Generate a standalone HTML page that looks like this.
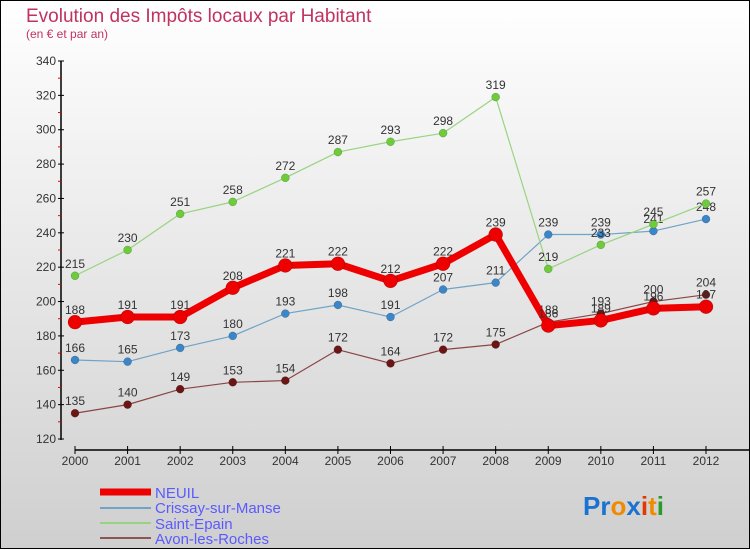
<!DOCTYPE html>
<html><head><meta charset="utf-8"><style>
body{margin:0}
#c{width:750px;height:550px;position:relative;overflow:hidden;font-family:"Liberation Sans",sans-serif}
</style></head><body>
<div id="c">
<svg id="s" width="750" height="550" xmlns="http://www.w3.org/2000/svg">
<defs><linearGradient id="bg" x1="0" y1="0" x2="0" y2="1"><stop offset="0" stop-color="#ffffff"/><stop offset="1" stop-color="#cfcfcf"/></linearGradient></defs>
<rect x="0.5" y="0.5" width="749" height="548" fill="url(#bg)" stroke="#000"/>
<text x="26" y="22" font-size="19" fill="#c0335f">Evolution des Impôts locaux par Habitant</text>
<text x="26" y="38" font-size="12" fill="#c0335f">(en € et par an)</text>
<g id="axes"></g><g id="series"></g>
<g>
<line x1="100" y1="492" x2="151" y2="492" stroke="#e00" stroke-width="7"/>
<text x="155" y="498" font-size="15" fill="#5a5aff">NEUIL</text>
<line x1="100" y1="508" x2="151" y2="508" stroke="#6fa3c8" stroke-width="2"/>
<text x="155" y="513" font-size="15" fill="#5a5aff">Crissay-sur-Manse</text>
<line x1="100" y1="523" x2="151" y2="523" stroke="#98d480" stroke-width="2"/>
<text x="155" y="529" font-size="15" fill="#5a5aff">Saint-Epain</text>
<line x1="100" y1="538" x2="151" y2="538" stroke="#8b5555" stroke-width="2"/>
<text x="155" y="544" font-size="15" fill="#5a5aff">Avon-les-Roches</text>
</g>
<text x="583" y="515" font-size="26" font-weight="bold"><tspan fill="#1a73d0">Pr</tspan><tspan fill="#f08a00">o</tspan><tspan fill="#1a73d0">x</tspan><tspan fill="#e03a00">i</tspan><tspan fill="#f08a00">t</tspan><tspan fill="#2a9a2a">i</tspan></text>
</svg></div>
<script>
const years=["2000","2001","2002","2003","2004","2005","2006","2007","2008","2009","2010","2011","2012"];
const neuil=[188,191,191,208,221,222,212,222,239,186,189,196,197];
const crissay=[166,165,173,180,193,198,191,207,211,239,239,241,248];
const saintEpain=[215,230,251,258,272,287,293,298,319,219,233,245,257];
const avon=[135,140,149,153,154,172,164,172,175,188,193,200,204];
const yTicks=[120,140,160,180,200,220,240,260,280,300,320,340];
const NS="http://www.w3.org/2000/svg";
const x=i=>75+i*(706-75)/12;
const y=v=>439-(v-120)*(439-61)/220;
function mk(t,a,p){const e=document.createElementNS(NS,t);for(const k in a)e.setAttribute(k,a[k]);p.appendChild(e);return e;}
const ax=document.getElementById('axes');
let e=mk('line',{x1:61,y1:61,x2:61,y2:440,stroke:'#000','stroke-width':1.5},ax);


e=mk('line',{x1:75,y1:450,x2:750,y2:450,stroke:'#000','stroke-width':1.5},ax);


yTicks.forEach((v,i)=>{
 mk('line',{x1:58,x2:64,y1:y(v),y2:y(v),stroke:'#000'},ax);
 if(i<yTicks.length-1)mk('line',{x1:58,x2:61,y1:y(v+10),y2:y(v+10),stroke:'#e00'},ax);
 const t=mk('text',{x:56,y:y(v)+4,'font-size':12,fill:'#333','text-anchor':'end'},ax);t.textContent=v;
 
 
});
years.forEach((yr,i)=>{
 mk('line',{x1:x(i),x2:x(i),y1:446,y2:454,stroke:'#000'},ax);
 const t=mk('text',{x:x(i),y:465,'font-size':12,fill:'#333','text-anchor':'middle'},ax);t.textContent=yr;
 
 
});
const sg=document.getElementById('series');
function draw(vals,col,dot,w,r,name){
 const g=mk('g',{},sg);
 
 
 mk('polyline',{points:vals.map((v,i)=>x(i)+','+y(v)).join(' '),fill:'none',stroke:col,'stroke-width':w,'stroke-linejoin':'round'},g);
 vals.forEach((v,i)=>{
  const c=mk('circle',{cx:x(i),cy:y(v),r:r,fill:dot,stroke:'rgba(0,0,0,0.3)','stroke-width':0.5},g);
  
  
  const t=mk('text',{x:x(i),y:y(v)-8,'font-size':12,fill:'#333','text-anchor':'middle'},g);t.textContent=v;
  
  
 });
}
draw(avon,'#8b4545','#6b1515',1.2,4,'avon');
draw(crissay,'#6fa3c8','#3a86c8',1.2,4,'crissay');
draw(saintEpain,'#98d480','#6ccc3a',1.2,4,'saint-epain');
draw(neuil,'#ee0000','#ee0000',7,7,'neuil');
</script>
</body></html>
